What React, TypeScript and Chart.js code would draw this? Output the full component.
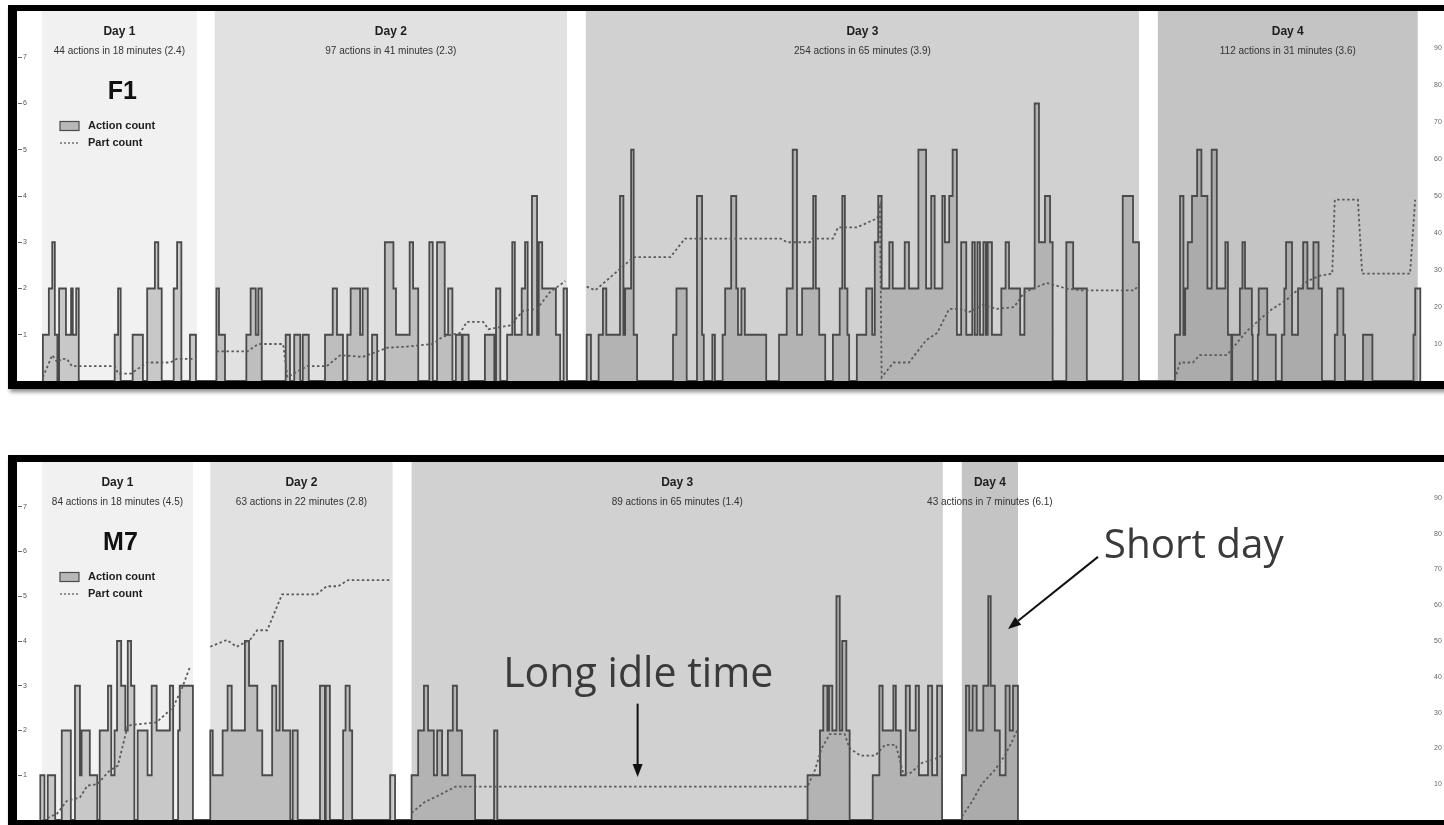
import React, { useEffect, useRef } from 'react';
import { Chart, registerables } from 'chart.js';
Chart.register(...registerables);

const FONT = '"Liberation Sans", Arial, sans-serif';

// ---------------- F1 (top panel) ----------------
const F1_DAY_LABELS = ['Day 1', 'Day 2', 'Day 3', 'Day 4'];
const F1_DAY_ACTIONS = [44, 97, 254, 112];
const F1_DAY_MINUTES = [18, 41, 65, 31];
const F1_DAY_RATE = ['2.4', '2.3', '3.9', '3.6'];
const F1_DAY_START = [0, 20.2, 63.6, 130.5];
const F1_DAY_END = [18.1, 61.4, 128.3, 160.9];

const F1_ACTION_T = [
  0.1, 0.8, 1.2, 1.5, 1.8, 2.0, 2.8, 3.4, 3.6, 4.0, 4.3, 8.5, 8.9, 9.2, 10.6, 11.8, 12.3, 13.2, 13.6, 14.0, 15.4, 15.8, 16.3, 17.3, 18.0,
  20.4, 20.7, 21.4, 23.9, 24.4, 25.0, 25.3, 25.7, 28.5, 29.0, 29.5, 30.2, 30.5, 31.2, 33.1, 34.0, 34.5, 35.2, 35.7, 36.1, 37.2, 37.5, 38.1, 38.6, 39.2,
  40.1, 41.1, 41.4, 43.0, 43.4, 44.0, 45.3, 45.7, 46.2, 47.1, 47.5, 48.0, 48.4, 49.1, 49.2, 49.9, 51.8, 52.9, 53.1, 53.6, 54.4, 55.0, 55.3, 56.1, 56.5,
  56.8, 57.3, 57.9, 58.1, 58.5, 60.1, 60.6, 61.0, 61.4,
  63.7, 64.2, 65.1, 65.6, 66.0, 67.6, 68.0, 68.2, 68.9, 69.2, 69.6, 73.8, 74.2, 75.4, 76.6, 77.2, 77.4, 78.4, 78.7, 79.6, 79.9, 80.6, 81.2, 81.4, 81.8,
  82.2, 84.7, 86.2, 87.1, 87.8, 88.3, 88.9, 90.2, 90.5, 90.9, 91.6, 92.5, 93.3, 93.6, 93.9, 94.2, 94.4, 95.3, 96.4, 97.1, 97.4, 97.8, 98.2, 99.1, 99.5,
  100.9, 101.4, 102.5, 103.4, 104.0, 104.4, 105.3, 105.6, 106.1, 106.5, 107.0, 107.5, 108.1, 108.8, 109.1, 109.4, 109.7, 110.1, 110.4, 110.6, 111.1,
  112.2, 112.7, 113.1, 114.4, 114.9, 116.1, 116.6, 117.3, 117.9, 118.2, 119.8, 120.6, 122.2, 126.4, 127.6, 128.3,
  132.5, 133.1, 133.5, 133.7, 134.0, 134.5, 135.1, 135.6, 136.3, 136.8, 137.4, 138.4, 138.7, 139.1, 139.2, 140.1, 140.4, 140.7, 141.5, 141.6, 142.2,
  142.3, 143.3, 144.3, 145.0, 145.3, 145.5, 146.2, 146.9, 147.5, 148.0, 148.7, 149.3, 149.7, 151.2, 151.5, 152.2, 152.4, 154.5, 155.6, 160.4, 160.6, 161.2,
];
const F1_ACTION_N = [
  1, 2, 3, 1, 0, 2, 1, 2, 1, 2, 0, 1, 2, 0, 1, 0, 2, 3, 2, 0, 2, 3, 0, 1, 0,
  2, 1, 0, 1, 2, 1, 2, 0, 1, 0, 1, 0, 1, 0, 1, 2, 1, 0, 1, 2, 1, 2, 0, 1, 0,
  3, 2, 1, 3, 2, 0, 3, 0, 3, 1, 2, 0, 1, 0, 1, 0, 1, 0, 2, 0, 1, 3, 1, 2, 3,
  1, 4, 1, 3, 2, 1, 0, 2, 0,
  1, 0, 1, 2, 1, 4, 1, 2, 5, 1, 0, 1, 2, 0, 4, 1, 0, 1, 0, 1, 2, 4, 2, 1, 2,
  1, 0, 1, 2, 5, 1, 2, 4, 2, 1, 0, 1, 2, 4, 2, 1, 0, 1, 2, 1, 3, 4, 2, 3, 2,
  3, 2, 5, 2, 4, 2, 4, 3, 4, 5, 1, 3, 1, 3, 1, 3, 1, 3, 1, 3, 1,
  2, 3, 2, 1, 2, 6, 3, 4, 3, 0, 3, 2, 0, 4, 3, 0,
  1, 4, 1, 2, 3, 4, 5, 4, 2, 5, 2, 3, 1, 0, 1, 2, 3, 2, 1, 0, 1,
  2, 1, 0, 1, 2, 3, 1, 2, 3, 2, 3, 2, 0, 1, 2, 1, 0, 1, 0, 1, 2, 0,
];
const F1_PART_T = [
  0.1, 1.2, 1.8, 2.3, 2.9, 3.5, 8.5, 8.9, 10.4, 12.3, 15.0, 15.8, 18.0, 19.1,
  20.4, 24.0, 25.3, 28.2, 28.7, 29.8, 31.0, 33.3, 34.9, 37.5, 40.4, 42.7, 45.7, 46.9, 48.9, 49.7, 51.6, 52.2, 54.7, 56.3, 57.9, 59.4, 61.2, 62.4,
  63.7, 64.7, 69.2, 73.5, 75.2, 86.4, 87.1, 89.8, 90.1, 92.5, 93.1, 95.3, 97.7, 98.0, 98.2, 99.6, 101.4, 103.4, 104.7, 106.1, 107.7, 108.3, 110.0,
  111.7, 113.7, 114.9, 117.5, 119.8, 121.5, 127.8, 128.2, 129.4,
  132.5, 133.1, 134.6, 135.4, 138.6, 139.3, 140.9, 143.6, 145.6, 148.0, 149.5, 150.9, 151.2, 153.9, 154.4, 160.0, 160.6,
];
const F1_PART_N = [
  1, 7, 5, 6, 6, 4, 4, 2, 2, 5, 5, 6, 6, null,
  8, 8, 10, 10, 1, 2.5, 4, 4, 7, 6.5, 9, 9.3, 10, 12, 13, 16, 16, 14, 15, 19, 19.5, 24, 27, null,
  25.5, 24.5, 33.5, 33.5, 38.5, 38.5, 37.5, 37.5, 38.5, 38.5, 41.5, 41.5, 44, 47, 1, 5, 5, 11, 13, 19.5, 19.5, 18.5, 20.5,
  19.5, 20, 24, 26.5, 25, 24.5, 24.5, 26, null,
  0.5, 5, 5, 7, 7, 9, 13.5, 19, 22, 27, 28.5, 29, 49, 49, 29, 29, 49,
];

// ---------------- M7 (bottom panel) ----------------
const M7_DAY_LABELS = ['Day 1', 'Day 2', 'Day 3', 'Day 4'];
const M7_DAY_ACTIONS = [84, 63, 89, 43];
const M7_DAY_MINUTES = [18, 22, 65, 7];
const M7_DAY_RATE = ['4.5', '2.8', '1.4', '6.1'];
const M7_DAY_START = [0, 20.4, 44.8, 111.5];
const M7_DAY_END = [18.3, 42.5, 109.2, 118.3];

const M7_ACTION_T = [
  -0.2, 0.3, 0.7, 1.6, 2.4, 3.5, 4.0, 4.6, 4.8, 5.8, 6.7, 7.0, 8.0, 8.4, 8.8, 9.1, 9.6, 10.1, 10.4, 10.8, 11.2, 11.6, 12.8, 13.3, 13.9, 15.5, 15.9,
  16.5, 16.7, 18.3,
  20.4, 20.7, 21.9, 22.5, 23.0, 24.6, 25.1, 26.1, 26.7, 27.9, 28.4, 28.8, 29.2, 30.1, 30.4, 31.0, 33.7, 34.3, 34.4, 34.9, 36.5, 36.8, 37.3, 37.6,
  42.2, 42.8,
  44.8, 45.6, 46.3, 46.8, 47.5, 47.9, 48.5, 49.2, 49.8, 50.3, 50.9, 52.5, 54.8, 55.2, 92.8, 94.3, 94.7, 95.2, 95.4, 95.8, 96.3, 96.7, 97.0, 97.5,
  97.9, 100.7, 101.5, 101.9, 103.2, 103.5, 104.1, 104.7, 105.2, 105.9, 106.3, 107.4, 107.9, 108.5, 109.1,
  111.5, 112.0, 112.4, 112.8, 113.3, 114.1, 114.7, 115.0, 115.5, 116.1, 116.8, 117.3, 117.7, 118.3,
];
const M7_ACTION_N = [
  1, 0, 1, 0, 2, 0, 3, 1, 2, 1, 0, 2, 3, 1, 2, 4, 3, 2, 4, 3, 0, 2, 1, 3, 2, 3, 0,
  2, 3, 0,
  2, 1, 2, 3, 2, 4, 3, 2, 1, 3, 2, 4, 2, 0, 2, 0, 3, 0, 3, 0, 2, 3, 2, 0,
  1, 0,
  1, 2, 3, 2, 1, 2, 1, 2, 3, 2, 1, 0, 2, 0, 1, 2, 3, 2, 3, 2, 5, 2, 4, 2,
  0, 1, 3, 2, 3, 2, 1, 3, 2, 3, 1, 3, 1, 3, 0,
  1, 3, 2, 3, 2, 3, 5, 3, 2, 1, 3, 2, 3, 0,
];
const M7_PART_T = [
  0.1, 1.8, 3.0, 4.6, 5.5, 6.7, 8.2, 9.2, 10.4, 12.7, 13.9, 15.9, 17.0, 17.9, 19.3,
  20.4, 22.4, 23.6, 25.2, 26.1, 27.3, 29.1, 33.3, 34.5, 35.9, 37.1, 42.2, 43.6,
  44.8, 46.4, 48.2, 50.1, 92.8, 93.7, 94.5, 95.5, 97.3, 97.9, 99.2, 101.0, 102.2, 103.5, 104.4, 105.2, 106.7, 108.2, 109.1, 110.3,
  111.5, 112.7, 113.9, 115.5, 116.7, 117.6, 118.2,
];
const M7_PART_N = [
  0, 1.7, 5.3, 6.3, 9.6, 10, 13.8, 15.2, 26.4, 27, 27.3, 31.5, 37, 42.5, null,
  48.4, 50.3, 48.4, 50.3, 53, 53, 63, 63, 65.3, 65.3, 67, 67, null,
  2, 5, 7, 9.3, 9.3, 14, 20, 24, 24, 20, 18, 18, 21, 21, 13, 13, 16, 17, 18, null,
  1, 5, 10, 14, 18, 22, 25,
];

// annotation texts (bottom panel)
const NOTE_TEXTS = ['Long idle time', 'Short day'];

// ---------------- styling ----------------
const BAND_COLORS = ['#f1f1f1', '#e1e1e1', '#d1d1d1', '#c4c4c4'];
const BAR_FILL = 'rgba(128,128,128,0.36)';
const BAR_LINE = '#4a4a4a';
const PART_LINE = '#5a5a5a';

type PanelDef = {
  name: string;
  labels: string[];
  actions: number[];
  minutes: number[];
  rates: string[];
  start: number[];
  end: number[];
  actT: number[];
  actN: number[];
  partT: number[];
  partN: (number | null)[];
  xMin: number;
  xMax: number;
  notes: boolean;
};

const NOTE_LAYOUT = [
  { text: 0, tx: 55.9, ty: 2.97, w: 270, ax0: 72.2, ay0: 2.6, ax1: 72.2, ay1: 0.96 },
  { text: 1, tx: 128.7, ty: 5.85, w: 180, ax0: 128.0, ay0: 5.88, ax1: 117.1, ay1: 4.27 },
];

function fitFont(ctx: CanvasRenderingContext2D, text: string, width: number) {
  ctx.font = `40px "Open Sans", ${FONT}`;
  const w = ctx.measureText(text).width;
  const size = (40 * width) / w;
  ctx.font = `${size.toFixed(1)}px "Open Sans", ${FONT}`;
}

function drawArrow(ctx: CanvasRenderingContext2D, x0: number, y0: number, x1: number, y1: number) {
  const ang = Math.atan2(y1 - y0, x1 - x0);
  const head = 13;
  const half = 5;
  const bx = x1 - head * Math.cos(ang);
  const by = y1 - head * Math.sin(ang);
  ctx.strokeStyle = '#111';
  ctx.fillStyle = '#111';
  ctx.lineWidth = 2;
  ctx.setLineDash([]);
  ctx.beginPath();
  ctx.moveTo(x0, y0);
  ctx.lineTo(bx, by);
  ctx.stroke();
  ctx.beginPath();
  ctx.moveTo(x1, y1);
  ctx.lineTo(bx + half * Math.sin(ang), by - half * Math.cos(ang));
  ctx.lineTo(bx - half * Math.sin(ang), by + half * Math.cos(ang));
  ctx.closePath();
  ctx.fill();
}

function decorPlugin(p: PanelDef) {
  return {
    id: 'decor',
    beforeDatasetsDraw(chart: any) {
      const { ctx, chartArea: a, scales } = chart;
      const xs = scales.x;
      ctx.save();
      p.start.forEach((s, i) => {
        const x0 = xs.getPixelForValue(s);
        const x1 = xs.getPixelForValue(p.end[i]);
        ctx.fillStyle = BAND_COLORS[i];
        ctx.fillRect(x0, a.top, x1 - x0, a.bottom - a.top);
      });
      ctx.textAlign = 'center';
      ctx.textBaseline = 'middle';
      p.start.forEach((s, i) => {
        const cx = (xs.getPixelForValue(s) + xs.getPixelForValue(p.end[i])) / 2;
        ctx.fillStyle = '#1e1e1e';
        ctx.font = `bold 12px ${FONT}`;
        ctx.fillText(p.labels[i], cx, a.top + 21);
        ctx.fillStyle = '#333';
        ctx.font = `10px ${FONT}`;
        ctx.fillText(`${p.actions[i]} actions in ${p.minutes[i]} minutes (${p.rates[i]})`, cx, a.top + 40);
      });
      const b0 = xs.getPixelForValue(p.start[0]);
      const b1 = xs.getPixelForValue(p.end[0]);
      ctx.fillStyle = '#111';
      ctx.font = `bold 25px ${FONT}`;
      ctx.fillText(p.name, (b0 + b1) / 2 + 3, a.top + 81);
      // legend
      const lx = b0 + 18;
      const ly1 = a.top + 115;
      const ly2 = a.top + 132;
      ctx.fillStyle = '#d8d8d8';
      ctx.fillRect(lx, ly1 - 4.5, 19, 9);
      ctx.fillStyle = BAR_FILL;
      ctx.fillRect(lx, ly1 - 4.5, 19, 9);
      ctx.strokeStyle = BAR_LINE;
      ctx.lineWidth = 1.2;
      ctx.strokeRect(lx, ly1 - 4.5, 19, 9);
      ctx.beginPath();
      ctx.setLineDash([2, 2]);
      ctx.strokeStyle = PART_LINE;
      ctx.lineWidth = 1.3;
      ctx.moveTo(lx, ly2);
      ctx.lineTo(lx + 18, ly2);
      ctx.stroke();
      ctx.setLineDash([]);
      ctx.textAlign = 'left';
      ctx.fillStyle = '#1e1e1e';
      ctx.font = `bold 11px ${FONT}`;
      ctx.fillText('Action count', lx + 28, ly1);
      ctx.fillText('Part count', lx + 28, ly2);
      ctx.restore();
    },
    afterDatasetsDraw(chart: any) {
      if (!p.notes) return;
      const { ctx, scales } = chart;
      const xs = scales.x;
      const ys = scales.y;
      ctx.save();
      NOTE_LAYOUT.forEach((n) => {
        const text = NOTE_TEXTS[n.text];
        fitFont(ctx, text, n.w);
        ctx.fillStyle = '#3a3a3a';
        ctx.textAlign = 'left';
        ctx.textBaseline = 'alphabetic';
        ctx.fillText(text, xs.getPixelForValue(n.tx), ys.getPixelForValue(n.ty));
        drawArrow(
          ctx,
          xs.getPixelForValue(n.ax0),
          ys.getPixelForValue(n.ay0),
          xs.getPixelForValue(n.ax1),
          ys.getPixelForValue(n.ay1)
        );
      });
      ctx.restore();
    },
  };
}

function PanelChart({ p, width, height }: { p: PanelDef; width: number; height: number }) {
  const ref = useRef<HTMLCanvasElement>(null);
  useEffect(() => {
    const actPts = p.actT.map((x, i) => ({ x, y: p.actN[i] }));
    actPts.unshift({ x: p.actT[0], y: 0 });
    const partPts = p.partT.map((x, i) => ({ x, y: p.partN[i] }));
    const chart = new Chart(ref.current as HTMLCanvasElement, {
      type: 'line',
      data: {
        datasets: [
          {
            label: 'Part count',
            data: partPts as any,
            yAxisID: 'y2',
            borderColor: PART_LINE,
            borderWidth: 1.8,
            borderDash: [2.5, 2.5],
            pointRadius: 0,
            fill: false,
            tension: 0,
            spanGaps: false,
          },
          {
            label: 'Action count',
            data: actPts as any,
            yAxisID: 'y',
            stepped: true,
            borderColor: BAR_LINE,
            borderWidth: 1.8,
            backgroundColor: BAR_FILL,
            fill: 'origin',
            pointRadius: 0,
          },
        ],
      },
      options: {
        animation: false,
        responsive: true,
        maintainAspectRatio: false,
        layout: { padding: 0 },
        plugins: { legend: { display: false }, tooltip: { enabled: false } },
        scales: {
          x: { type: 'linear', display: false, min: p.xMin, max: p.xMax },
          y: {
            position: 'left',
            min: 0,
            max: 8,
            border: { display: false },
            grid: { drawOnChartArea: false, drawTicks: true, tickLength: 4, color: '#666', lineWidth: 1 },
            ticks: { mirror: true, padding: 1, stepSize: 1, font: { size: 7, family: FONT }, color: '#555' },
            afterBuildTicks: (s: any) => {
              s.ticks = s.ticks.filter((t: any) => t.value > 0 && t.value < 8);
            },
            afterFit: (s: any) => {
              s.width = 4;
              s.paddingTop = 0;
              s.paddingBottom = 0;
            },
          },
          y2: {
            position: 'right',
            min: 0,
            max: 100,
            border: { display: false },
            grid: { display: false, drawTicks: false },
            ticks: { stepSize: 10, padding: 9, font: { size: 7, family: FONT }, color: '#666' },
            afterBuildTicks: (s: any) => {
              s.ticks = s.ticks.filter((t: any) => t.value > 0 && t.value < 100);
            },
            afterFit: (s: any) => {
              s.width = 33;
              s.paddingTop = 0;
              s.paddingBottom = 0;
            },
          },
        },
      } as any,
      plugins: [decorPlugin(p) as any],
    });
    return () => chart.destroy();
  }, [p]);
  return (
    <div style={{ position: 'absolute', left: 1, top: 0, width, height }}>
      <canvas ref={ref} />
    </div>
  );
}

const F1: PanelDef = {
  name: 'F1',
  labels: F1_DAY_LABELS,
  actions: F1_DAY_ACTIONS,
  minutes: F1_DAY_MINUTES,
  rates: F1_DAY_RATE,
  start: F1_DAY_START,
  end: F1_DAY_END,
  actT: F1_ACTION_T,
  actN: F1_ACTION_N,
  partT: F1_PART_T,
  partN: F1_PART_N,
  xMin: -2.34,
  xMax: 161.75,
  notes: false,
};

const M7: PanelDef = {
  name: 'M7',
  labels: M7_DAY_LABELS,
  actions: M7_DAY_ACTIONS,
  minutes: M7_DAY_MINUTES,
  rates: M7_DAY_RATE,
  start: M7_DAY_START,
  end: M7_DAY_END,
  actT: M7_ACTION_T,
  actN: M7_ACTION_N,
  partT: M7_PART_T,
  partN: M7_PART_N,
  xMin: -2.42,
  xMax: 167.64,
  notes: true,
};

export default function App() {
  return (
    <div
      style={{
        position: 'fixed',
        left: 0,
        top: 0,
        width: 1444,
        height: 825,
        overflow: 'hidden',
        background: '#fff',
      }}
    >
      <div
        style={{
          position: 'absolute',
          left: 8,
          top: 5,
          width: 1520,
          height: 370,
          borderTop: '6px solid #000',
          borderLeft: '9px solid #000',
          borderBottom: '8px solid #000',
          background: '#fff',
          boxShadow: '2px 3px 4px rgba(0,0,0,0.45)',
        }}
      >
        <PanelChart p={F1} width={1440} height={370} />
      </div>
      <div
        style={{
          position: 'absolute',
          left: 8,
          top: 455,
          width: 1520,
          height: 358,
          borderTop: '7px solid #000',
          borderLeft: '9px solid #000',
          borderBottom: '8px solid #000',
          background: '#fff',
          boxShadow: '2px 3px 4px rgba(0,0,0,0.45)',
        }}
      >
        <PanelChart p={M7} width={1440} height={358} />
      </div>
    </div>
  );
}
